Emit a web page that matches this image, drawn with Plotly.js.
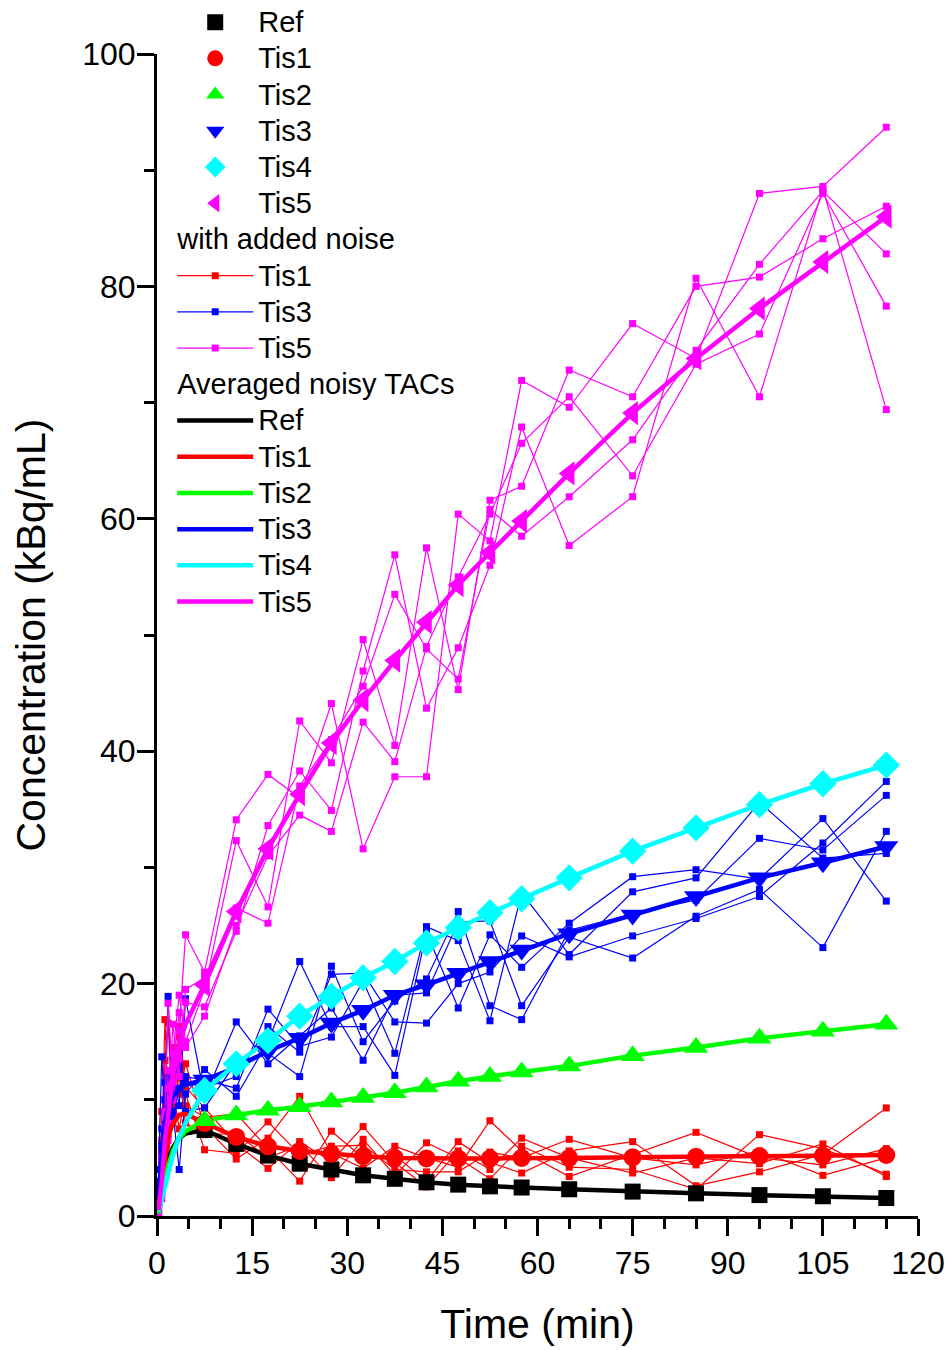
<!DOCTYPE html>
<html>
<head>
<meta charset="utf-8">
<script src="https://cdn.plot.ly/plotly-3.0.1.min.js"></script>
<style>html,body{margin:0;padding:0;background:#fff;}#chart{width:951px;height:1350px;}</style>
</head>
<body>
<div id="chart"></div>
<script>
// Frame mid-times (min)
const time = [0.25, 0.75, 1.25, 1.75, 2.5, 3.5, 4.5, 7.5, 12.5, 17.5, 22.5, 27.5, 32.5, 37.5, 42.5, 47.5, 52.5, 57.5, 65, 75, 85, 95, 105, 115];
const firstMarkerIndex = 7;

// Noise-free / averaged TACs (kBq/mL)
const ref  = [0.3, 1.8, 3.5, 4.8, 5.9, 6.7, 7.1, 7.4, 6.2, 5.2, 4.5, 4.0, 3.5, 3.2, 2.9, 2.7, 2.55, 2.45, 2.3, 2.1, 1.95, 1.8, 1.7, 1.55];
const tis1 = [0.4, 2.8, 5.2, 6.8, 8.0, 8.7, 8.8, 8.0, 6.8, 6.0, 5.6, 5.35, 5.15, 5.0, 4.95, 4.95, 4.95, 5.0, 5.0, 5.05, 5.1, 5.15, 5.2, 5.25];
const tis2 = [0.2, 1.5, 3.0, 4.3, 5.6, 6.7, 7.3, 8.2, 8.7, 9.1, 9.4, 9.8, 10.2, 10.6, 11.1, 11.6, 12.0, 12.4, 12.9, 13.8, 14.5, 15.3, 15.9, 16.5];
const tis3 = [1.5, 5.5, 8.0, 9.3, 10.3, 10.9, 11.3, 11.7, 12.8, 14.2, 15.3, 16.6, 17.7, 19.0, 19.9, 20.9, 21.9, 22.9, 24.3, 25.9, 27.5, 29.1, 30.4, 31.8];
const tis4 = [0.4, 1.4, 2.7, 3.7, 5.2, 6.8, 8.0, 10.8, 13.1, 15.1, 17.2, 18.9, 20.5, 21.9, 23.5, 24.8, 26.1, 27.3, 29.1, 31.4, 33.4, 35.4, 37.2, 38.8];
const tis5 = [0.5, 3.0, 6.5, 9.0, 12.0, 14.8, 16.5, 19.9, 26.2, 31.6, 36.3, 40.7, 44.4, 47.8, 51.1, 54.3, 57.1, 59.8, 63.9, 69.1, 73.8, 78.1, 82.1, 86.0];

// Noisy realisations
const tis1Noisy1 = [0.5, 6.5, 16.9, 10.0, 12.0, 16.3, 11.1, 9.3, 6.2, 4.1, 6.4, 4.7, 7.7, 4.6, 2.5, 5.6, 4.0, 6.7, 5.0, 3.7, 5.0, 4.5, 6.2, 3.4];
const tis1Noisy2 = [2.0, 4.0, 13.4, 16.6, 8.0, 15.4, 9.5, 8.5, 8.8, 5.8, 3.0, 7.3, 5.0, 5.2, 3.0, 6.4, 4.6, 3.7, 5.6, 6.4, 2.6, 3.8, 5.3, 9.3];
const tis1Noisy3 = [1.0, 9.0, 10.0, 7.0, 14.5, 10.5, 13.1, 7.7, 4.9, 6.7, 10.3, 5.4, 4.1, 6.0, 5.0, 4.2, 8.2, 5.6, 3.4, 5.3, 7.2, 5.0, 4.4, 5.8];
const tis1Noisy4 = [0.2, 5.5, 6.5, 12.5, 9.5, 12.0, 8.0, 7.0, 7.1, 5.0, 6.1, 3.3, 6.6, 3.5, 6.3, 5.0, 3.2, 6.0, 4.2, 4.0, 2.3, 7.0, 5.8, 3.6];
const tis1Noisy5 = [1.5, 3.0, 8.5, 4.2, 11.0, 7.5, 10.5, 5.7, 5.4, 8.1, 5.3, 6.0, 6.1, 4.0, 3.8, 3.8, 5.5, 5.0, 6.6, 5.0, 4.4, 5.6, 3.5, 5.0];

const tis3Noisy1 = [4.0, 13.7, 9.0, 18.9, 8.5, 11.0, 12.0, 11.7, 11.0, 17.8, 14.6, 15.4, 20.2, 14.0, 24.9, 23.7, 16.8, 27.8, 22.5, 27.9, 29.1, 35.6, 30.8, 31.2];
const tis3Noisy2 = [1.0, 6.0, 11.5, 7.5, 12.5, 9.5, 18.7, 10.2, 16.7, 13.1, 15.5, 17.9, 13.4, 19.0, 19.2, 25.3, 25.4, 18.1, 24.0, 22.2, 25.8, 28.1, 23.1, 33.1];
const tis3Noisy3 = [2.5, 3.5, 7.0, 10.5, 9.0, 4.0, 10.5, 12.6, 10.3, 15.0, 21.9, 16.3, 16.3, 12.1, 24.4, 17.9, 24.2, 21.4, 25.2, 29.2, 29.8, 29.0, 34.2, 27.1];
const tis3Noisy4 = [0.5, 7.5, 5.5, 12.0, 14.0, 13.0, 9.0, 9.3, 13.2, 14.0, 12.0, 21.5, 15.0, 18.5, 20.4, 26.2, 18.1, 16.9, 24.6, 26.0, 27.2, 32.5, 31.5, 36.2];
const tis3Noisy5 = [3.0, 2.0, 10.0, 8.5, 11.0, 12.5, 11.5, 11.0, 12.0, 16.3, 14.1, 20.8, 20.9, 16.7, 16.6, 20.0, 21.0, 24.1, 22.3, 24.1, 25.6, 27.5, 32.1, 37.4];

const tis5Noisy1 = [0.2, 4.5, 9.0, 18.3, 11.5, 16.0, 24.2, 21.0, 34.1, 38.0, 36.0, 44.1, 31.6, 37.8, 37.8, 60.4, 58.1, 71.9, 69.6, 76.8, 73.8, 88.0, 88.6, 93.7];
const tis5Noisy2 = [1.0, 2.0, 7.7, 6.5, 14.0, 19.0, 15.0, 19.5, 32.3, 26.6, 42.6, 39.0, 49.6, 40.5, 57.5, 45.3, 61.6, 62.8, 72.8, 70.5, 80.0, 80.8, 84.1, 86.9];
const tis5Noisy3 = [0.5, 3.5, 5.0, 11.0, 10.0, 13.5, 18.4, 18.0, 24.5, 33.6, 38.3, 34.9, 46.9, 56.9, 43.7, 48.9, 56.0, 67.9, 57.7, 61.9, 80.7, 70.5, 88.4, 69.4];
const tis5Noisy4 = [0.0, 1.5, 8.5, 8.0, 16.5, 12.0, 19.5, 20.5, 26.5, 25.2, 37.0, 41.0, 45.6, 53.5, 48.8, 46.2, 60.8, 58.5, 61.9, 66.8, 74.5, 81.9, 88.2, 82.8];
const tis5Noisy5 = [0.8, 5.0, 4.0, 12.5, 13.0, 17.5, 14.5, 17.2, 25.0, 31.0, 34.5, 33.1, 42.5, 39.1, 49.0, 55.0, 60.4, 66.5, 70.5, 63.7, 73.3, 75.9, 88.0, 78.3];

const xTicks = [0, 15, 30, 45, 60, 75, 90, 105, 120];
const yTicks = [0, 20, 40, 60, 80, 100];

const FONT = 'Arial, "Liberation Sans", sans-serif';
const LEG_ROW_FONT = 25.55;  // sets legend row pitch
const LEG_TEXT = 29;         // visible legend text size
const big = (s) => '<span style="font-size:' + LEG_TEXT + 'px">' + s + '</span>';

const traces = [];

function noisy(name, color, arrays, rank) {
  arrays.forEach((ys, i) => {
    traces.push({
      x: time, y: ys, type: 'scatter', mode: 'lines+markers', name: big(name),
      line: {color: color, width: 1.2},
      marker: {symbol: 'square', size: 7, color: color},
      legendgroup: 'noise',
      legendgrouptitle: {text: big('with added noise'), font: {size: LEG_ROW_FONT, color: '#000', family: FONT}},
      showlegend: i === 0, legendrank: rank
    });
  });
}
noisy('Tis1', '#FF0000', [tis1Noisy1, tis1Noisy2, tis1Noisy3, tis1Noisy4, tis1Noisy5], 11);
noisy('Tis3', '#0000FF', [tis3Noisy1, tis3Noisy2, tis3Noisy3, tis3Noisy4, tis3Noisy5], 12);
noisy('Tis5', '#FF00FF', [tis5Noisy1, tis5Noisy2, tis5Noisy3, tis5Noisy4, tis5Noisy5], 13);

const curves = [
  {name: 'Ref',  y: ref,  color: '#000000', symbol: 'square',        size: 16},
  {name: 'Tis1', y: tis1, color: '#FF0000', symbol: 'circle',        size: 18},
  {name: 'Tis2', y: tis2, color: '#00FF00', symbol: 'triangle-up',   size: 21},
  {name: 'Tis3', y: tis3, color: '#0000FF', symbol: 'triangle-down', size: 21},
  {name: 'Tis4', y: tis4, color: '#00FFFF', symbol: 'diamond',       size: 21},
  {name: 'Tis5', y: tis5, color: '#FF00FF', symbol: 'triangle-left', size: 21}
];
curves.forEach((c, i) => {
  traces.push({
    x: time, y: c.y, type: 'scatter', mode: 'lines', name: big(c.name),
    line: {color: c.color, width: 4.5},
    legendgroup: 'avg',
    legendgrouptitle: {text: big('Averaged noisy TACs'), font: {size: LEG_ROW_FONT, color: '#000', family: FONT}},
    legendrank: 20 + i
  });
});
curves.forEach((c, i) => {
  traces.push({
    x: time.slice(firstMarkerIndex), y: c.y.slice(firstMarkerIndex), type: 'scatter', mode: 'markers', name: big(c.name),
    marker: {symbol: c.symbol, size: c.size, color: c.color},
    legendgroup: 'true', legendrank: 1 + i
  });
});

const axisCommon = {
  showline: true, linewidth: 3, linecolor: '#000', ticks: 'outside', ticklen: 17, tickwidth: 3, tickcolor: '#000',
  showgrid: false, zeroline: false, tickfont: {size: 32, color: '#000', family: FONT}
};

const layout = {
  width: 951, height: 1350,
  margin: {l: 157, r: 33, t: 54, b: 134, autoexpand: false},
  paper_bgcolor: '#fff', plot_bgcolor: '#fff',
  font: {family: FONT, color: '#000'},
  showlegend: true,
  legend: {
    x: 0.02, y: 1.0473, xanchor: 'left', yanchor: 'top',
    bgcolor: 'rgba(0,0,0,0)', borderwidth: 0,
    font: {size: LEG_ROW_FONT, color: '#000', family: FONT},
    traceorder: 'grouped', tracegroupgap: 0, itemwidth: 76
  },
  xaxis: Object.assign({}, axisCommon, {
    range: [0, 120], tickmode: 'array', tickvals: xTicks, ticktext: xTicks.map(String),
    minor: {dtick: 5, tick0: 0, ticks: 'outside', ticklen: 10, tickwidth: 3, tickcolor: '#000'},
    title: {text: 'Time (min)', font: {size: 41, color: '#000', family: FONT}, standoff: 29}
  }),
  yaxis: Object.assign({}, axisCommon, {
    range: [0, 100], tickmode: 'array', tickvals: yTicks, ticktext: yTicks.map(String),
    ticklabelstandoff: -5,
    minor: {dtick: 10, tick0: 0, ticks: 'outside', ticklen: 10, tickwidth: 3, tickcolor: '#000'},
    title: {text: 'Concentration (kBq/mL)', font: {size: 41, color: '#000', family: FONT}, standoff: 24}
  })
};

Plotly.newPlot('chart', traces, layout, {displayModeBar: false, responsive: false});
</script>
</body>
</html>
